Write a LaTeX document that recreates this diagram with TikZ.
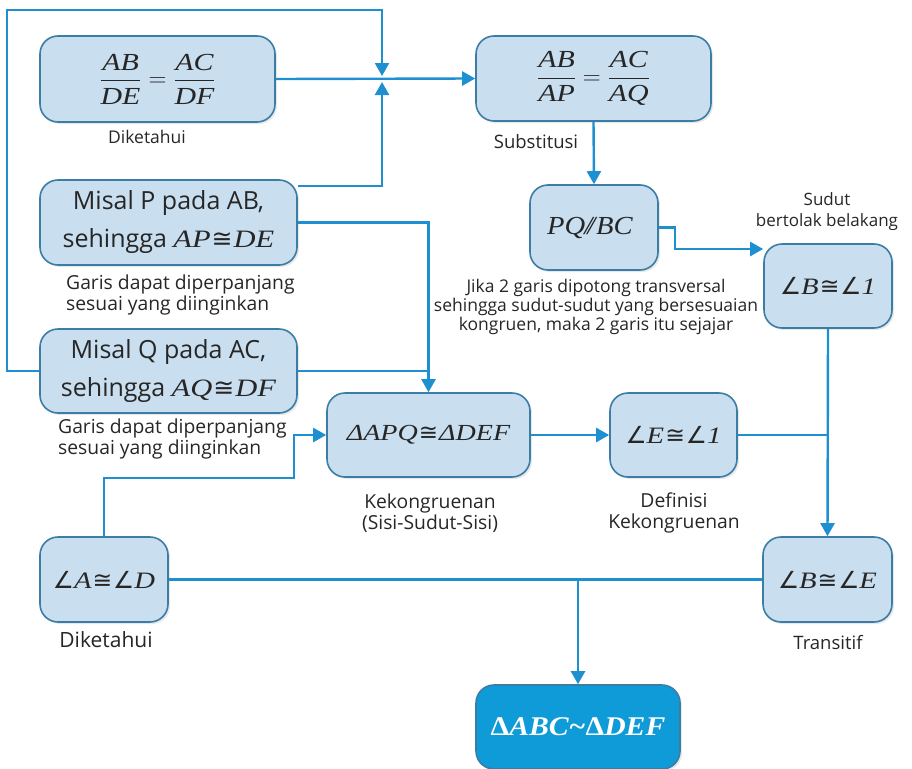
\documentclass[tikz,border=0pt]{standalone}
\usepackage{amsmath}
\usepackage{fontspec}
\setmainfont{Open Sans}
\newfontfamily\tms[FakeStretch=1.22]{Liberation Serif}
\newfontfamily\tmn[FakeStretch=1.1]{Liberation Serif}
\newfontfamily\dvs{DejaVu Sans}
\usetikzlibrary{arrows.meta,shadows,backgrounds}
\definecolor{lineblue}{HTML}{1E8FD0}
\definecolor{boxfill}{HTML}{C9DEEF}
\definecolor{bord}{HTML}{3C7DA6}
\definecolor{finfill}{HTML}{0F9AD8}
\definecolor{txt}{HTML}{262626}
\newcommand{\ti}[1]{\mbox{\tms\itshape #1}}
\newcommand{\cg}{\mbox{\dvs\kern1pt ≅\kern1pt}}
\newcommand{\ang}{\mbox{\dvs\itshape ∠}}
\begin{document}
\begin{tikzpicture}[x=1pt,y=-1pt,
  box/.style={draw=bord, line width=1.6pt, fill=boxfill, rounded corners=18pt,
    inner sep=0pt, align=center, text=txt,
    drop shadow={opacity=0.18, shadow xshift=2pt, shadow yshift=-2pt}},
  lbl/.style={text=txt, font=\fontsize{19.3}{20.5}\selectfont, align=center, inner sep=0pt},
  ln/.style={draw=lineblue, line width=2.4pt},
  arr/.style={ln, -{Triangle[length=13pt,width=14pt]}},
  bigt/.style={font=\fontsize{25}{38}\selectfont},
  mth/.style={font=\fontsize{24.5}{28}\selectfont},
  ang/.style={font=\fontsize{23.5}{28}\selectfont}]
\useasboundingbox (0,0) rectangle (912,768);
% boxes
\node[box, mth, minimum width=235pt, minimum height=86pt] (b1) at (157.5,79)
  {$\dfrac{\ti{AB}}{\ti{DE}}=\dfrac{\ti{AC}}{\ti{DF}}$};
\node[box, mth, minimum width=235pt, minimum height=85pt] (b2) at (593.5,78.5)
  {$\dfrac{\ti{AB}}{\ti{AP}}=\dfrac{\ti{AC}}{\ti{AQ}}$};
\node[box, bigt, minimum width=257pt, minimum height=85pt] (mp) at (168.5,222.5)
  {Misal P pada AB,\\sehingga \ti{AP}\cg\ti{DE}};
\node[box, bigt, minimum width=257pt, minimum height=84pt] (mq) at (168.5,371)
  {Misal Q pada AC,\\sehingga \ti{AQ}\cg\ti{DF}};
\node[box, font=\fontsize{23}{26}\selectfont, minimum width=203pt, minimum height=84pt] (apq) at (428.5,435)
  {\ti{ΔAPQ}\cg\ti{ΔDEF}};
\node[box, font=\fontsize{26}{28}\selectfont\tmn\itshape, minimum width=128pt, minimum height=85pt] (pq) at (594,227.5)
  {\kern-8pt PQ\kern-1pt/\kern-5pt/\kern1pt BC};
\node[box, ang, minimum width=128pt, minimum height=84pt] (bo) at (828,286)
  {\ang\ti{B}\cg\ang\ti{1}};
\node[box, ang, minimum width=127pt, minimum height=84pt] (e1) at (673.5,435)
  {\ang\ti{E}\cg\ang\ti{1}};
\node[box, ang, minimum width=128pt, minimum height=85pt] (ad) at (104,579.5)
  {\ang\ti{A}\cg\ang\ti{D}};
\node[box, ang, minimum width=129pt, minimum height=85pt] (be) at (827.5,579.5)
  {\ang\ti{B}\cg\ang\ti{E}};
\node[box, fill=finfill, draw=bord, text=white, minimum width=204pt, minimum height=84pt,
  font=\fontsize{27}{30}\selectfont\tmn\bfseries\itshape] (fin) at (578,727)
  {{\upshape Δ}ABC\textasciitilde{\upshape Δ}DEF};
% labels
\node[lbl, font=\fontsize{17.5}{20}\selectfont] at (147,137) {Diketahui};
\node[lbl, font=\fontsize{18.5}{20}\selectfont] at (536,142) {Substitusi};
\node[lbl, align=left, anchor=west] at (66,295) {Garis dapat diperpanjang\\sesuai yang diinginkan};
\node[lbl, align=left, anchor=west] at (58,439) {Garis dapat diperpanjang\\sesuai yang diinginkan};
\node[lbl, font=\fontsize{17.5}{19}\selectfont] at (596,307) {Jika 2 garis dipotong transversal\\sehingga sudut-sudut yang bersesuaian\\kongruen, maka 2 garis itu sejajar};
\node[lbl, font=\fontsize{17}{21}\selectfont] at (827,212) {Sudut\\bertolak belakang};
\node[lbl] at (430,513) {Kekongruenan\\(Sisi-Sudut-Sisi)};
\node[lbl] at (674,513) {Definisi\\Kekongruenan};
\node[lbl, font=\fontsize{21}{22}\selectfont] at (106,640) {Diketahui};
\node[lbl, font=\fontsize{18.5}{20}\selectfont] at (828,643) {Transitif};
\coordinate (j) at (382,79);
% connectors
\begin{pgfonlayer}{background}
\draw[arr] (mq.west) -- ++(-32,0) |- (j |- 0,10) -- ([yshift=3pt]j);
\draw[arr] ([yshift=-7pt]mp.north east) -| ([yshift=-3pt]j);
\draw[arr] (b1.east) -- (b2.west);
\draw[arr] (mp.east) -| (apq.north);
\draw[ln] (mq.east) -- (apq.north |- mq.east);
\draw[arr] (ad.north) -- (ad.north |- apq.south) -| ([xshift=-32pt]apq.west) -- (apq.west);
\draw[arr] (b2.south) -- (pq.north);
\draw[arr] (pq.east) -- ++(16,0) |- ([yshift=37pt]bo.west);
\draw[arr] (apq.east) -- (e1.west);
\draw[arr] (bo.south) -- (be.north);
\draw[ln] (e1.east) -- (bo.south |- e1.east);
\draw[ln] (ad.east) -- (be.west);
\draw[arr] (fin.north |- ad.east) -- (fin.north);
\end{pgfonlayer}
\end{tikzpicture}
\end{document}
